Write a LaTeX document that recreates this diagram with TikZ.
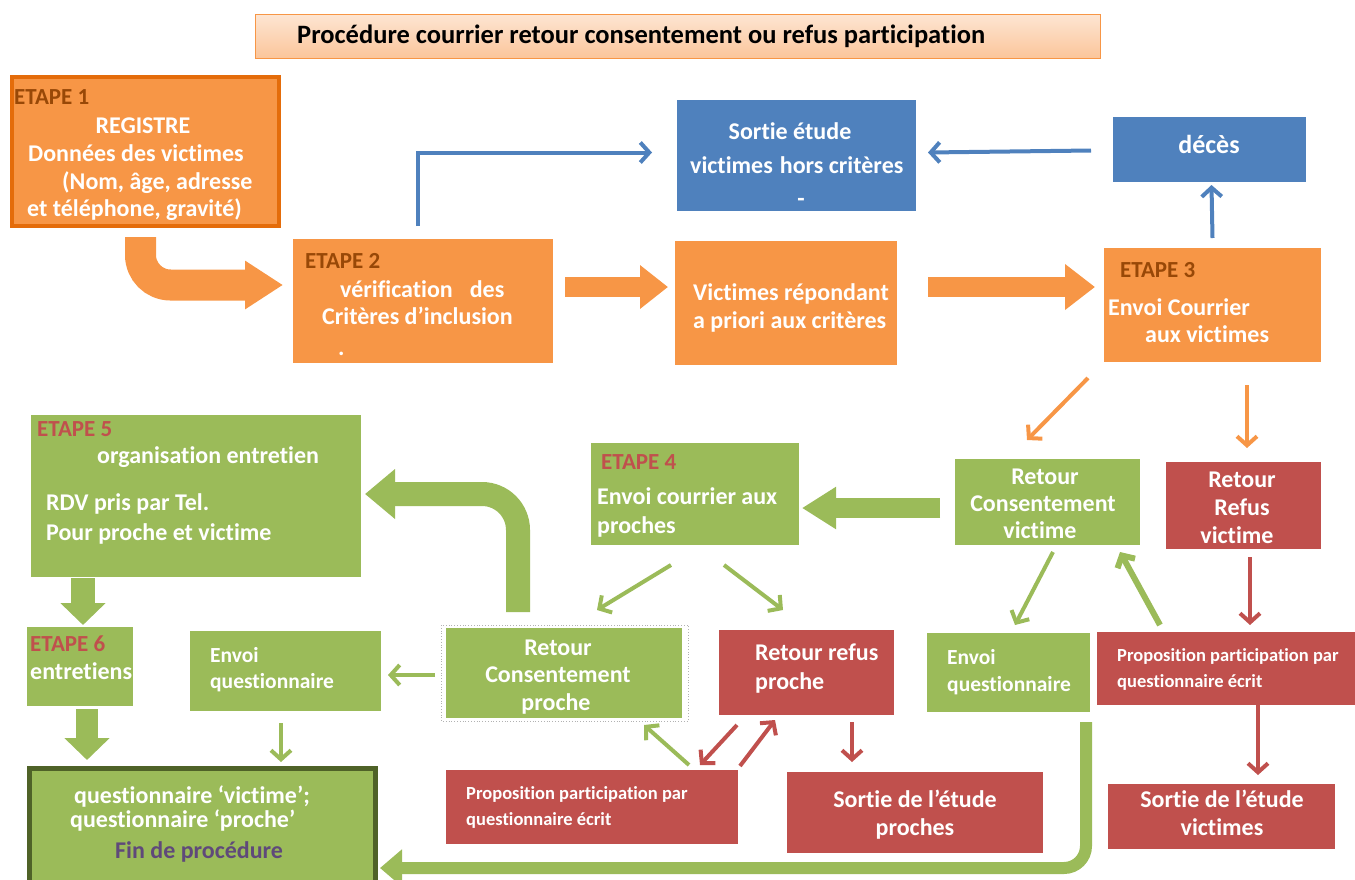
\documentclass[tikz,border=0pt]{standalone}
\usepackage{fontspec}
\setmainfont{Carlito}[Ligatures=NoCommon]
\usetikzlibrary{arrows.meta,calc}

\definecolor{orng}{HTML}{F79646}
\definecolor{orngdk}{HTML}{E46C0A}
\definecolor{brwn}{HTML}{984807}
\definecolor{blu}{HTML}{4F81BD}
\definecolor{grn}{HTML}{9BBB59}
\definecolor{grndk}{HTML}{4F6228}
\definecolor{rd}{HTML}{C0504D}
\definecolor{purp}{HTML}{5F497A}
\definecolor{peachlt}{HTML}{FDE5D2}
\definecolor{peachdk}{HTML}{FBC59A}

% box with corners (x1,y1) and (x2,y2), y growing downwards
\newcommand\mkbox[6]{%
  \node[#2, anchor=north west, inner sep=0pt, outer sep=0pt,
        minimum width={#5pt-#3pt}, minimum height={#6pt-#4pt}] (#1) at (#3,#4) {};}

\newcommand\fsz[1]{\fontsize{#1}{#1}\selectfont\bfseries}

\tikzset{
  obox/.style={fill=orng},
  bbox/.style={fill=blu},
  gbox/.style={fill=grn},
  rbox/.style={fill=rd},
  txt/.style={anchor=base west, inner sep=0pt, text=white, font=\fsz{24}},
  ctxt/.style={txt, anchor=base},
  stxt/.style={txt, font=\fsz{18.5}},
  mtxt/.style={txt, font=\fsz{21.5}},
  etapeo/.style={txt, text=brwn, font=\fsz{23}},
  etapeg/.style={txt, text=rd, font=\fsz{23}},
  thin/.style={line width=4pt, -{Straight Barb[length=9pt,width=20pt]}},
}

\begin{document}
\begin{tikzpicture}[x=1pt,y=-1pt]
\useasboundingbox (0,0) rectangle (1355,879);

% ---------- boxes ----------
\node[anchor=north west, inner sep=0pt, minimum width=845pt, minimum height=44pt,
      top color=peachlt, bottom color=peachdk, draw=orng, line width=1pt] (title) at (255,14) {};
\mkbox{e1}{obox, draw=orngdk, line width=4pt}{12}{77}{279}{226}
\mkbox{e2}{obox}{293}{239}{553}{363}
\mkbox{vic}{obox}{675}{241}{897}{365}
\mkbox{e3}{obox}{1104}{248}{1321}{362}
\mkbox{sort}{bbox}{677}{100}{916}{211}
\mkbox{deces}{bbox}{1113}{117}{1306}{182}
\mkbox{e5}{gbox}{31}{415}{361}{577}
\mkbox{e4}{gbox}{591}{443}{799}{545}
\mkbox{rcv}{gbox}{955}{459}{1140}{545}
\mkbox{rrv}{rbox}{1166}{462}{1321}{549}
\mkbox{e6}{gbox}{27}{627}{133}{706}
\mkbox{envq1}{gbox}{190}{631}{381}{711}
\mkbox{rcp}{gbox}{446}{628}{682}{718}
\mkbox{rrp}{rbox}{719}{630}{894}{715}
\mkbox{propa}{rbox}{446}{770}{738}{844}
\mkbox{sorp}{rbox}{787}{772}{1043}{853}
\mkbox{envq2}{gbox}{927}{633}{1090}{712}
\mkbox{propb}{rbox}{1097}{632}{1355}{705}
\mkbox{sorv}{rbox}{1108}{784}{1335}{849}
\mkbox{fin}{gbox, draw=grndk, line width=5pt}{29}{768}{375}{886}

% dotted frame around the relatives' consent box
\draw[gray!60, dotted, line width=0.8pt]
  ($(rcp.north west)+(-5,-3)$) rectangle ($(rcp.south east)+(6,3)$);

% ---------- texts ----------
\node[txt, text=black, font=\fsz{26.5}] (ttl) at (297,43) {Procédure courrier retour consentement ou refus participation};

\node[etapeo] (e1a) at (14,104) {ETAPE 1};
\node[ctxt] (e1b) at (143,133) {REGISTRE};
\node[txt] (e1c) at (28,161) {Données des victimes};
\node[txt] (e1d) at (62,189) {(Nom, âge, adresse};
\node[txt] (e1e) at (27,216) {et téléphone, gravité)};

\node[etapeo] (e2a) at (305,268) {ETAPE 2};
\node[txt] (e2b) at (340,297) {vérification\hspace{17pt}des};
\node[txt] (e2c) at (322,324) {Critères d’inclusion};
\node[txt] (e2d) at (338,355) {.};

\node[txt] (vica) at (693,300) {Victimes répondant};
\node[txt] (vicb) at (693,328) {a priori aux critères};

\node[etapeo] (e3a) at (1120,277) {ETAPE 3};
\node[txt] (e3b) at (1108,315) {Envoi Courrier};
\node[txt] (e3c) at (1145,342) {aux victimes};

\node[ctxt] (sorta) at (790,139) {Sortie étude};
\node[txt] (sortb) at (690,173) {victimes\hspace{7pt}hors critères};
\node[ctxt] (sortc) at (801,206) {-};

\node[ctxt, font=\fsz{26}] (decesa) at (1209,153) {décès};

\node[etapeg] (e5a) at (37,436) {ETAPE 5};
\node[txt] (e5b) at (97,463) {organisation entretien};
\node[txt] (e5c) at (46,510) {RDV pris par Tel.};
\node[txt] (e5d) at (46,540) {Pour proche et victime};

\node[etapeg] (e4a) at (601,469) {ETAPE 4};
\node[txt] (e4b) at (597,504) {Envoi courrier aux};
\node[txt] (e4c) at (597,533) {proches};

\node[ctxt] (rcva) at (1045,484) {Retour};
\node[ctxt] (rcvb) at (1043,511) {Consentement};
\node[ctxt] (rcvc) at (1040,538) {victime};

\node[ctxt] (rrva) at (1242,487) {Retour};
\node[ctxt] (rrvb) at (1242,515) {Refus};
\node[ctxt] (rrvc) at (1237,543) {victime};

\node[etapeg] (e6a) at (30,651) {ETAPE 6};
\node[txt] (e6b) at (30,679) {entretiens};

\node[mtxt] (envq1a) at (210,662) {Envoi};
\node[mtxt] (envq1b) at (210,688) {questionnaire};

\node[ctxt] (rcpa) at (558,655) {Retour};
\node[ctxt] (rcpb) at (558,682) {Consentement};
\node[ctxt] (rcpc) at (556,710) {proche};

\node[txt] (rrpa) at (755,660) {Retour refus};
\node[txt] (rrpb) at (755,689) {proche};

\node[stxt] (propaa) at (466,799) {Proposition participation par};
\node[stxt] (propab) at (466,825) {questionnaire écrit};

\node[ctxt] (sorpa) at (915,807) {Sortie de l’étude};
\node[ctxt] (sorpb) at (915,835) {proches};

\node[mtxt] (envq2a) at (947,664) {Envoi};
\node[mtxt] (envq2b) at (947,691) {questionnaire};

\node[stxt] (propba) at (1117,661) {Proposition participation par};
\node[stxt] (propbb) at (1117,687) {questionnaire écrit};

\node[ctxt] (sorva) at (1222,807) {Sortie de l’étude};
\node[ctxt] (sorvb) at (1222,835) {victimes};

\node[txt] (fina) at (74,803) {questionnaire ‘victime’;};
\node[txt] (finb) at (70,827) {questionnaire ‘proche’};
\node[txt, text=purp] (finc) at (115,858) {Fin de procédure};

% ---------- connectors ----------
% blue: exclusions
\draw[blu, thin] ($(e2.north)+(-5,-13)$) |- ($(sort.west)+(-25,-3)$);
\draw[blu, thin] ($(deces.west)+(-22,1)$) -- ($(sort.east)+(12,-3)$);
\draw[blu, thin] ($(e3.north)+(0,-10)$) -- ($(deces.south)+(2,3)$);

% orange block arrows
\draw[orng, line width=31pt, rounded corners=30pt, -{Triangle[length=38pt,width=46pt]}]
  ($(e1.south)+(-5,11)$) |- ($(e2.west)+(-10,-16)$);
\draw[orng, line width=20pt, -{Triangle[length=28pt,width=42pt]}]
  ($(e2.east)+(12,-14)$) -- ($(vic.west)+(-7,-16)$);
\draw[orng, line width=20pt, -{Triangle[length=30pt,width=44pt]}]
  ($(vic.east)+(31,-16)$) -- ($(e3.west)+(-9,-18)$);

% orange thin arrows from step 3
\draw[orng, thin] ($(e3.south)+(-124.5,16)$) -- ($(rcv.north)+(-20.5,-19)$);
\draw[orng, thin] ($(e3.south)+(34.5,23)$) -- ($(rrv.north)+(3.5,-14)$);

% green block arrows
\draw[grn, line width=20pt, -{Triangle[length=34pt,width=40pt]}]
  ($(rcv.west)+(-15,6)$) -- ($(e4.east)+(3,14)$);
\draw[grn, line width=24pt, rounded corners=36pt, -{Triangle[length=30pt,width=48pt]}]
  ($(rcp.north)+(-46,-16)$) |- ($(e5.east)+(4,-2)$);
\draw[grn, line width=24pt, -{Triangle[length=22pt,width=44pt]}]
  ($(e5.south)+(-113,1)$) -- ($(e6.north)+(3,-2)$);
\draw[grn, line width=22pt, -{Triangle[length=22pt,width=44pt]}]
  ($(e6.south)+(7,3)$) -- ($(fin.north)+(-115,-8)$);

% green thin arrows
\draw[grn, thin] ($(rcp.west)+(-11,2)$) -- ($(envq1.east)+(7,4)$);
\draw[grn, thin] ($(envq1.south)+(-4.5,12)$) -- ($(fin.north)+(79,-6)$);
\draw[grn, thin] ($(e4.south)+(-24,20)$) -- ($(rcp.north)+(33,-18)$);
\draw[grn, thin] ($(e4.south)+(29,20)$) -- ($(rrp.north)+(-23.5,-20)$);
\draw[grn, thin] ($(propa.north)+(97,-5)$) -- ($(rcp.south)+(80,7)$);
\draw[grn, thin] ($(rcv.south)+(5.5,7)$) -- ($(envq2.north)+(6.5,-8)$);
\draw[grn, thin, line width=6pt] ($(propb.north)+(-66,-7)$) -- ($(rcv.south)+(72.5,7)$);

% red thin arrows
\draw[rd, thin] ($(rrp.south)+(-69.5,10)$) -- ($(propa.north)+(108,-5)$);
\draw[rd, thin] ($(propa.north)+(148,-4)$) -- ($(rrp.south)+(-31.5,5)$);
\draw[rd, thin] ($(rrp.south)+(45.5,7)$) -- ($(sorp.north)+(-63,-10)$);
\draw[rd, thin] ($(rrv.south)+(6.5,8)$) -- ($(propb.north)+(24,-7)$);
\draw[rd, thin] ($(propb.south)+(32,0)$) -- ($(sorv.north)+(36.5,-9)$);

% long return to the final box
\draw[grn, line width=12pt, rounded corners=22pt, -{Triangle[length=22pt,width=36pt]}]
  ($(envq2.south)+(77.5,10)$) |- ($(fin.east)+(5,41)$);
\end{tikzpicture}
\end{document}
